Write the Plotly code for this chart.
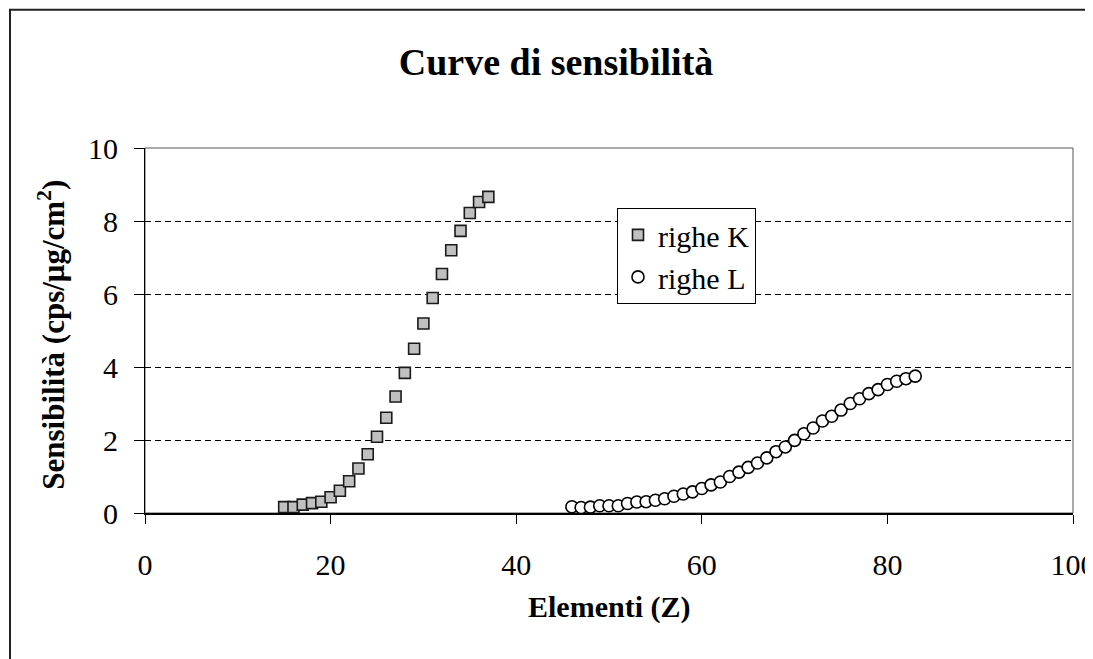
import plotly.graph_objects as go

# ---- data ----
z_k = list(range(15, 38))
sens_k = [0.16, 0.16, 0.23, 0.27, 0.31, 0.43, 0.61, 0.87, 1.22, 1.61, 2.09, 2.61,
          3.19, 3.84, 4.50, 5.19, 5.89, 6.55, 7.20, 7.73, 8.22, 8.52, 8.66]

z_l = list(range(46, 84))
sens_l = [0.17, 0.15, 0.16, 0.20, 0.20, 0.20, 0.26, 0.30, 0.31, 0.35, 0.39, 0.46,
          0.52, 0.58, 0.67, 0.77, 0.85, 1.00, 1.12, 1.25, 1.37, 1.51, 1.68, 1.81,
          1.99, 2.17, 2.33, 2.52, 2.65, 2.82, 3.00, 3.13, 3.27, 3.38, 3.52, 3.61,
          3.68, 3.75]

x_ticks = [0, 20, 40, 60, 80, 100]
y_ticks = [0, 2, 4, 6, 8, 10]

FONT = "Liberation Serif, Times New Roman, serif"
OFF = 8  # page body margin
W, H = 1093 - OFF, 659 - OFF
L, T = 145 - OFF, 148 - OFF
PW, PH = 928, 365.5

fig = go.Figure()
fig.add_trace(go.Scatter(
    x=z_k, y=sens_k, mode="markers", name="righe K",
    marker=dict(symbol="square", size=11, color="#c0c0c0",
                line=dict(color="#1a1a1a", width=1.6)),
))
fig.add_trace(go.Scatter(
    x=z_l, y=sens_l, mode="markers", name="righe L",
    marker=dict(symbol="circle", size=12, color="white",
                line=dict(color="#000000", width=1.6)),
))

fig.update_layout(
    width=W, height=H,
    margin=dict(l=L, r=W - L - PW, t=T, b=H - T - PH, autoexpand=False),
    paper_bgcolor="white", plot_bgcolor="white",
    font=dict(family=FONT, color="black", size=30),
    title=dict(text="<b>Curve di sensibilità</b>", xref="container", yref="container",
               x=(556 - OFF) / W, y=1 - (62 - OFF) / H, xanchor="center", yanchor="middle",
               font=dict(family=FONT, size=38, color="black")),
    showlegend=True,
    legend=dict(x=(617 - 145) / PW, y=(513.5 - 208) / PH, xanchor="left", yanchor="top",
                bgcolor="white", bordercolor="black", borderwidth=1,
                font=dict(family=FONT, size=30, color="black"),
                itemsizing="trace", tracegroupgap=0),
)

fig.update_xaxes(
    range=[0, 100], tickvals=x_ticks, ticktext=[str(v) for v in x_ticks],
    showgrid=False, zeroline=False, automargin=False,
    showline=True, linecolor="black", linewidth=2,
    ticks="outside", ticklen=9, tickcolor="black", tickwidth=1,
    ticklabelstandoff=15, ticklabeloverflow="allow",
    tickfont=dict(family=FONT, size=30, color="black"),
)
fig.update_yaxes(
    range=[0, 10], tickvals=y_ticks, ticktext=[str(v) for v in y_ticks],
    showgrid=True, gridcolor="black", gridwidth=1, griddash="6px,4px",
    zeroline=False, automargin=False,
    showline=True, linecolor="black", linewidth=1,
    ticks="outside", ticklen=10, tickcolor="black", tickwidth=1,
    ticklabelstandoff=10, ticklabeloverflow="allow",
    tickfont=dict(family=FONT, size=30, color="black"),
)

# axis titles
fig.add_annotation(text="<b>Elementi (Z)</b>", xref="paper", yref="paper",
                   x=0.5, y=(513.5 - 608) / PH, xanchor="center", yanchor="middle",
                   showarrow=False, font=dict(family=FONT, size=30, color="black"))
fig.add_annotation(text="<b>Sensibilità (cps/μg/cm<sup>2</sup>)</b>", xref="paper", yref="paper",
                   x=(52 - 145) / PW, y=(513.5 - 335) / PH, xanchor="center", yanchor="middle",
                   textangle=-90, showarrow=False, font=dict(family=FONT, size=31, color="black"))

# plot-area border (top/right grey) and outer chart frame
fig.add_shape(type="rect", xref="paper", yref="paper", x0=0, x1=1, y0=0, y1=1,
              line=dict(color="#555555", width=1), layer="below")
frame_left_px = OFF + 2   # page x of outer frame's left edge (cannot go left of body margin)
frame_top_px = 9.5
fig.add_shape(type="rect", xref="paper", yref="paper",
              x0=(frame_left_px - 145) / PW, x1=(1300 - 145) / PW,
              y0=(513.5 - 900) / PH, y1=(513.5 - frame_top_px) / PH,
              line=dict(color="#222222", width=2), layer="below")

fig.write_html("out.html")
